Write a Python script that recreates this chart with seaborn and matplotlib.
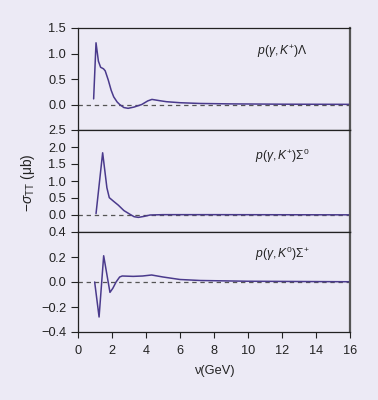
import matplotlib
matplotlib.use("Agg")
import matplotlib.pyplot as plt
import seaborn as sns
import pandas as pd

# ---- data ----
nu_lambda = [0.92, 1.06, 1.2, 1.33, 1.5, 1.6, 1.78, 1.95, 2.1, 2.3, 2.45, 2.7, 2.95,
             3.3, 3.75, 4.1, 4.35, 4.8, 5.2, 6.0, 7.2, 9.0, 12.0, 16.0]
sig_lambda = [0.11, 1.21, 0.85, 0.73, 0.70, 0.66, 0.48, 0.28, 0.15, 0.05, 0.0, -0.06, -0.075,
              -0.05, 0.0, 0.07, 0.10, 0.075, 0.055, 0.035, 0.02, 0.012, 0.006, 0.003]

nu_sigma0 = [1.06, 1.45, 1.7, 1.84, 2.1, 2.37, 2.7, 3.06, 3.3, 3.55, 3.9, 4.24, 5.0, 8.0, 16.0]
sig_sigma0 = [0.04, 1.83, 0.8, 0.51, 0.40, 0.29, 0.13, 0.02, -0.05, -0.07, -0.04, 0.0, 0.01, 0.01, 0.005]

nu_sigmap = [0.98, 1.24, 1.51, 1.88, 2.05, 2.24, 2.45, 2.6, 3.25, 3.8, 4.33, 5.0, 6.0, 7.2, 10.0, 16.0]
sig_sigmap = [0.0, -0.28, 0.21, -0.083, -0.05, 0.0, 0.04, 0.048, 0.045, 0.048, 0.056, 0.04, 0.02,
              0.012, 0.006, 0.002]

labels = [r"$p(\gamma,K^{+})\Lambda$", r"$p(\gamma,K^{+})\Sigma^{0}$", r"$p(\gamma,K^{0})\Sigma^{+}$"]
label_y = [0.765, 0.745, 0.78]
ylims = [(-0.5, 1.5), (-0.5, 2.5), (-0.4, 0.4)]
yticks = [[0.0, 0.5, 1.0, 1.5], [0.0, 0.5, 1.0, 1.5, 2.0, 2.5], [-0.4, -0.2, 0.0, 0.2, 0.4]]
xticks = [0, 2, 4, 6, 8, 10, 12, 14, 16]

BG = "#ECEAF5"
LINE = "#4A3A8C"
INK = "#222222"

sns.set_theme(style="ticks")
plt.rcParams["font.family"] = ["Liberation Sans", "DejaVu Sans"]
plt.rcParams["mathtext.fontset"] = "custom"
plt.rcParams["mathtext.rm"] = "Liberation Sans"
plt.rcParams["mathtext.it"] = "Liberation Sans:italic"
plt.rcParams["mathtext.sf"] = "Liberation Sans"
plt.rcParams["axes.unicode_minus"] = True

fig = plt.figure(figsize=(3.78, 4.0), dpi=100, facecolor=BG)
left, width = 78 / 378, (350 - 78) / 378
bounds = [(28, 130), (130, 232), (232, 332)]
datasets = [(nu_lambda, sig_lambda), (nu_sigma0, sig_sigma0), (nu_sigmap, sig_sigmap)]

axes = []
for i, ((t, b), (xs, ys)) in enumerate(zip(bounds, datasets)):
    ax = fig.add_axes([left, 1 - b / 400, width, (b - t) / 400])
    ax.set_facecolor(BG)
    df = pd.DataFrame({"nu": xs, "sig": ys})
    ax.axhline(0, color="#555555", lw=0.9, ls=(0, (3.5, 3)), zorder=1)
    sns.lineplot(data=df, x="nu", y="sig", ax=ax, color=LINE, lw=1.1, zorder=2)
    ax.set_xlim(0, 16)
    ax.set_ylim(*ylims[i])
    ax.set_yticks(yticks[i])
    ax.set_yticklabels([f"{v:.1f}".replace("-", "\u2212") for v in yticks[i]])
    ax.set_xticks(xticks)
    ax.set_xlabel("")
    ax.set_ylabel("")
    ax.tick_params(axis="y", direction="out", length=5, width=0.8, labelsize=9.2,
                   pad=3.5, colors=INK)
    for s in ["left", "top", "bottom"]:
        ax.spines[s].set_color(INK)
        ax.spines[s].set_linewidth(0.9)
    ax.spines["right"].set_color("#555555")
    ax.spines["right"].set_linewidth(1.6)
    ax.spines["right"].set_visible(True)
    ax.spines["top"].set_visible(True)
    if i < 2:
        ax.tick_params(axis="x", bottom=False, labelbottom=False)
    else:
        ax.tick_params(axis="x", direction="out", length=4.5, width=0.8, labelsize=9.2,
                       pad=4.5, colors=INK)
        ax.set_xlabel("\u03bd(GeV)", fontsize=9.2, color=INK, labelpad=6)
    ax.text(0.75, label_y[i], labels[i], transform=ax.transAxes, fontsize=8.7,
            color=INK, ha="center", va="center")
    axes.append(ax)

fig.text(28 / 378, 1 - 183 / 400, r"$-\sigma_{\mathrm{TT}}$" + " (\u03bcb)", rotation=90,
         ha="center", va="center", fontsize=10, color=INK)

fig.savefig("out.png", dpi=100, facecolor=BG)
